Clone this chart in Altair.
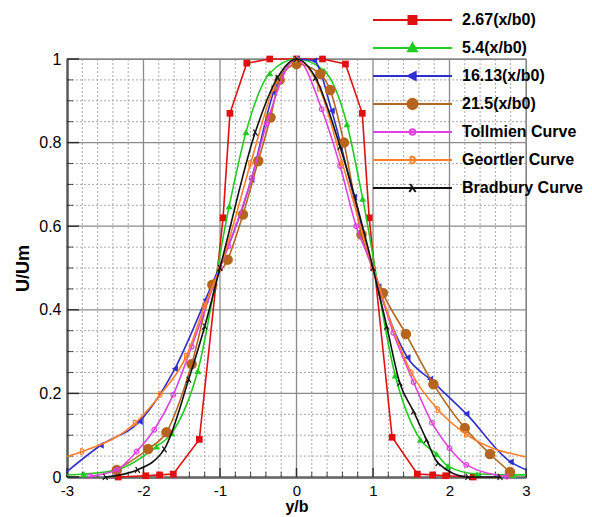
import altair as alt
import pandas as pd

names = ["2.67(x/b0)", "5.4(x/b0)", "16.13(x/b0)", "21.5(x/b0)",
         "Tollmien Curve", "Geortler Curve", "Bradbury Curve"]
colors = ["#e01010", "#1fcc1f", "#2f2fd0", "#b5651d", "#e040e0", "#ff7f2a", "#111111"]
fills = ["#e01010", "#1fcc1f", "#2f2fd0", "#b5651d", "transparent", "transparent", "transparent"]

red_x = [-2.33, -1.97, -1.79, -1.61, -1.27, -0.96, -0.87, -0.65, -0.35, 0.0, 0.34, 0.64, 0.86, 0.95, 1.25, 1.58, 1.78, 1.95, 2.31]
red_y = [0.0, 0.003, 0.005, 0.007, 0.09, 0.62, 0.87, 0.99, 1.0, 1.0, 1.0, 0.988, 0.87, 0.62, 0.095, 0.007, 0.005, 0.003, 0.0]

green_x = [-3.0, -2.78, -2.33, -1.83, -1.63, -1.29, -0.88, -0.66, -0.35, 0.0, 0.36, 0.66, 0.865, 1.29, 1.62, 1.83, 1.98, 2.36, 2.83, 3.0]
green_y = [0.005, 0.007, 0.018, 0.073, 0.105, 0.254, 0.648, 0.825, 0.966, 1.0, 0.972, 0.844, 0.666, 0.243, 0.089, 0.055, 0.026, 0.007, 0.005, 0.005]

blue_x = [-3.0, -2.56, -2.05, -1.59, -1.19, -0.59, -0.3, 0.0, 0.23, 0.46, 0.75, 1.07, 1.45, 1.745, 2.22, 2.8, 3.0]
blue_y = [0.013, 0.076, 0.133, 0.259, 0.424, 0.712, 0.92, 1.0, 0.996, 0.876, 0.67, 0.455, 0.286, 0.234, 0.151, 0.036, 0.017]

brown_x = [-2.35, -1.94, -1.70, -1.37, -1.1, -0.9, -0.7, -0.5, -0.34, -0.22, 0.0, 0.31, 0.44, 0.62, 0.85, 1.13, 1.43, 1.79, 2.2, 2.53, 2.79]
brown_y = [0.017, 0.067, 0.107, 0.27, 0.46, 0.52, 0.628, 0.756, 0.86, 0.95, 0.988, 0.964, 0.926, 0.80, 0.58, 0.44, 0.342, 0.222, 0.117, 0.055, 0.012]

tollmien_x = [-2.7, -2.35, -2.09, -1.86, -1.61, -1.37, -1.0, -0.89, -0.585, -0.39, 0.0, 0.33, 0.57, 0.78, 1.0, 1.265, 1.53, 1.77, 2.0, 2.22, 2.75]
tollmien_y = [0.002, 0.017, 0.061, 0.113, 0.197, 0.312, 0.5, 0.552, 0.716, 0.845, 1.0, 0.88, 0.744, 0.60, 0.5, 0.345, 0.227, 0.13, 0.069, 0.029, 0.001]

goertler_x = [-3.0, -2.8, -2.11, -1.78, -1.44, -1.2, -1.0, -0.6, -0.3, 0.0, 0.3, 0.6, 1.0, 1.5, 1.85, 2.22, 3.0]
goertler_y = [0.049, 0.061, 0.129, 0.197, 0.289, 0.41, 0.5, 0.75, 0.93, 1.0, 0.93, 0.75, 0.5, 0.25, 0.161, 0.102, 0.048]

bradbury_x = [-2.5, -2.08, -1.73, -1.41, -1.2, -1.0, -0.54, -0.25, 0.0, 0.25, 0.57, 1.0, 1.18, 1.35, 1.53, 1.70, 1.85, 2.24, 2.66]
bradbury_y = [0.0, 0.017, 0.066, 0.233, 0.36, 0.5, 0.824, 0.955, 1.0, 0.955, 0.79, 0.5, 0.36, 0.225, 0.157, 0.089, 0.033, 0.0, 0.0]

x_major = [-3, -2, -1, 0, 1, 2, 3]
x_minor = [-2.8, -2.6, -2.4, -2.2, -1.8, -1.6, -1.4, -1.2, -0.8, -0.6, -0.4, -0.2,
           0.2, 0.4, 0.6, 0.8, 1.2, 1.4, 1.6, 1.8, 2.2, 2.4, 2.6, 2.8]
y_major = [0, 0.2, 0.4, 0.6, 0.8, 1.0]
y_minor = [0.05, 0.1, 0.15, 0.25, 0.3, 0.35, 0.45, 0.5, 0.55, 0.65, 0.7, 0.75, 0.85, 0.9, 0.95]

series = [
    (red_x, red_y, "square", True, 45, "linear"),
    (green_x, green_y, "triangle-up", True, 50, "monotone"),
    (blue_x, blue_y, "triangle-left", True, 50, "monotone"),
    (brown_x, brown_y, "circle", True, 110, "monotone"),
    (tollmien_x, tollmien_y, "circle", False, 22, "monotone"),
    (goertler_x, goertler_y, "M-0.6,-1V1M-0.6,-1C1,-1,1,1,-0.6,1", False, 36, "monotone"),
    (bradbury_x, bradbury_y, "M-0.8,1L0.1,-0.2M-0.6,-1L0.8,1", False, 36, "monotone"),
]

legend_paths = [
    "M-1,0H1M-0.1,-0.1H0.1V0.1H-0.1Z",
    "M-1,0H1M0,-0.12L0.11,0.08H-0.11Z",
    "M-1,0H1M-0.11,0L0.08,-0.1V0.1Z",
    "M-1,0H1M0.13,0A0.13,0.13,0,1,1,-0.13,0A0.13,0.13,0,1,1,0.13,0Z",
    "M-1,0H1M0.07,0A0.07,0.07,0,1,1,-0.07,0A0.07,0.07,0,1,1,0.07,0Z",
    "M-1,0H1M-0.05,-0.09V0.09M-0.05,-0.09C0.1,-0.09,0.1,0.09,-0.05,0.09",
    "M-1,0H1M-0.08,0.1L0.0,-0.02M-0.06,-0.1L0.08,0.1",
]

xs = alt.Scale(domain=[-3, 3], nice=False, zero=False)
ys = alt.Scale(domain=[0, 1], nice=False, zero=False)

xaxis = alt.Axis(values=x_major, labelExpr="'' + datum.value", title="y/b",
                 grid=False, ticks=False, tickSize=0, domainColor="black", domainWidth=2,
                 labelFontSize=15, labelPadding=6, labelColor="black",
                 titleFontSize=16, titleFontWeight="bold", titlePadding=0, titleColor="black",
                 labelFlush=False, labelOverlap=False)
yaxis = alt.Axis(values=y_major, format="~g", title="U/Um",
                 grid=False, ticks=False, tickSize=0, domainColor="black", domainWidth=2,
                 labelFontSize=16, labelPadding=6, labelColor="black",
                 titleFontSize=18, titleFontWeight="bold", titlePadding=6, titleColor="black",
                 labelFlush=False, labelOverlap=False)


def X(f):
    return alt.X(f, type="quantitative", scale=xs, axis=xaxis)


def Y(f):
    return alt.Y(f, type="quantitative", scale=ys, axis=yaxis)


layers = []
df_xmin = pd.DataFrame({"v": x_minor})
df_ymin = pd.DataFrame({"v": y_minor})
df_xmaj = pd.DataFrame({"v": x_major})
df_ymaj = pd.DataFrame({"v": y_major})

layers.append(alt.Chart(df_xmin).mark_rule(color="#a8a8a8", strokeWidth=1, strokeDash=[2, 2]).encode(x=X("v")))
layers.append(alt.Chart(df_ymin).mark_rule(color="#a8a8a8", strokeWidth=1, strokeDash=[2, 2]).encode(y=Y("v")))
layers.append(alt.Chart(df_xmaj).mark_rule(color="#8a8a8a", strokeWidth=1.3).encode(x=X("v")))
layers.append(alt.Chart(df_ymaj).mark_rule(color="#8a8a8a", strokeWidth=1.3).encode(y=Y("v")))

# inward ticks
layers.append(alt.Chart(df_xmaj).mark_tick(orient="vertical", size=9, thickness=1.5, color="black", yOffset=-4.5)
              .encode(x=X("v"), y=alt.YDatum(0, type="quantitative", scale=ys, axis=yaxis)))
layers.append(alt.Chart(df_xmin).mark_tick(orient="vertical", size=5, thickness=1, color="black", yOffset=-2.5)
              .encode(x=X("v"), y=alt.YDatum(0, type="quantitative", scale=ys, axis=yaxis)))
layers.append(alt.Chart(df_ymaj).mark_tick(orient="horizontal", size=12, thickness=1.5, color="black", xOffset=6)
              .encode(y=Y("v"), x=alt.XDatum(-3, type="quantitative", scale=xs, axis=xaxis)))
layers.append(alt.Chart(df_ymin).mark_tick(orient="horizontal", size=6, thickness=1, color="black", xOffset=3)
              .encode(y=Y("v"), x=alt.XDatum(-3, type="quantitative", scale=xs, axis=xaxis)))

for (sx, sy, shp, filled, sz, interp), col in zip(series, colors):
    df = pd.DataFrame({"x": sx, "y": sy})
    layers.append(alt.Chart(df).mark_line(color=col, strokeWidth=1.6, interpolate=interp)
                  .encode(x=X("x"), y=Y("y")))
    layers.append(alt.Chart(df).mark_point(shape=shp, filled=filled, size=sz, color=col, opacity=1,
                                           strokeWidth=1.2)
                  .encode(x=X("x"), y=Y("y")).transform_filter("abs(datum.x) < 2.99"))

leg = alt.Legend(title=None, orient="none", legendX=305, legendY=-49, padding=0,
                 clipHeight=20, rowPadding=8, labelOffset=9,
                 labelFont="Liberation Sans", labelFontSize=16, labelFontWeight="bold",
                 labelColor="black", labelLimit=260, symbolSize=6241, symbolStrokeWidth=2,
                 symbolOpacity=1)
legend_df = pd.DataFrame({"s": names})
layers.append(
    alt.Chart(legend_df).mark_point(opacity=1, filled=False).encode(
        stroke=alt.Stroke("s:N", scale=alt.Scale(domain=names, range=colors), legend=leg),
        fill=alt.Fill("s:N", scale=alt.Scale(domain=names, range=fills), legend=leg),
        shape=alt.Shape("s:N", scale=alt.Scale(domain=names, range=legend_paths), legend=leg),
    ).transform_filter("false")
)

chart = alt.layer(*layers).properties(
    width=459, height=418,
    autosize=alt.AutoSizeParams(type="none"),
    padding={"left": 59, "top": 51, "right": 58, "bottom": 40},
).configure(font="Liberation Sans").configure_view(stroke="#7a7a7a", strokeWidth=1)

chart.save("out.html", embed_options={"renderer": "svg", "actions": False})
